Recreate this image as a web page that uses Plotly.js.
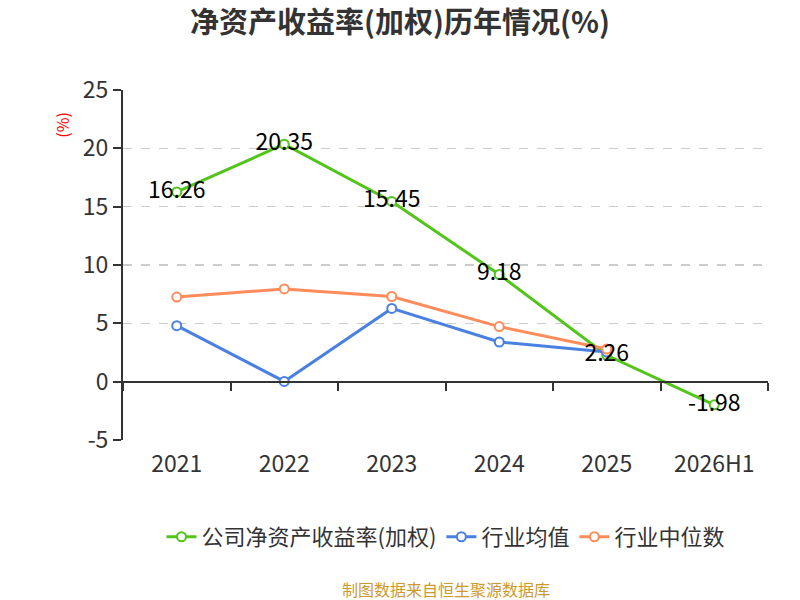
<!DOCTYPE html>
<html>
<head>
<meta charset="utf-8">
<script src="https://cdn.plot.ly/plotly-3.0.1.min.js"></script>
<style>
  html, body { margin: 0; padding: 0; background: #fff; }
  #chart { width: 800px; height: 600px; }
</style>
</head>
<body>
<div id="chart"></div>
<script>
const years = ['2021', '2022', '2023', '2024', '2025', '2026H1'];
const companyRoe = [16.26, 20.35, 15.45, 9.18, 2.26, -1.98];
const industryAvg = [4.8, 0.02, 6.28, 3.4, 2.55, null];
const industryMedian = [7.25, 7.95, 7.3, 4.72, 2.8, null];
const yTicks = [-5, 0, 5, 10, 15, 20, 25];
const yTickLabels = ['-5', '0', '5', '10', '15', '20', '25'];

const green = '#52c41a';
const blue = '#4a80e2';
const orange = '#ff8c5a';
const font = '"Noto Sans CJK SC", "Noto Sans", sans-serif';

function series(name, y, color) {
    return {
        x: years,
        y: y,
        name: name,
        type: 'scatter',
        mode: 'lines+markers',
        line: {color: color, width: 3},
        marker: {symbol: 'circle', size: 9, color: '#fff', line: {color: color, width: 2}},
        hoverinfo: 'skip'
    };
}

let data = [
    series('公司净资产收益率(加权)', companyRoe, green),
    series('行业均值', industryAvg, blue),
    series('行业中位数', industryMedian, orange),
    {
        // value labels, drawn last so they sit on top; also carries the zero-line axis
        x: years,
        y: companyRoe,
        xaxis: 'x2',
        type: 'scatter',
        mode: 'text',
        text: companyRoe.map(v => v.toFixed(2)),
        textposition: 'middle center',
        textfont: {family: font, size: 23, color: '#000'},
        showlegend: false,
        hoverinfo: 'skip'
    }
];

let layout = {
    width: 800,
    height: 600,
    margin: {l: 123, r: 32, t: 90, b: 160},
    paper_bgcolor: '#fff',
    plot_bgcolor: '#fff',
    font: {family: font, color: '#333'},
    title: {
        text: '<b>净资产收益率(加权)历年情况(%)</b>',
        x: 0.5,
        xanchor: 'center',
        y: 0.962,
        yanchor: 'middle',
        font: {family: font, size: 29, color: '#333'}
    },
    xaxis: {
        type: 'category',
        range: [-0.5, 5.5],
        showline: false,
        showgrid: false,
        zeroline: false,
        ticks: '',
        tickfont: {family: font, size: 23, color: '#333'},
        ticklabelstandoff: 8
    },
    xaxis2: {
        type: 'category',
        matches: 'x',
        overlaying: 'x',
        anchor: 'free',
        position: 5 / 30,
        showline: true,
        linecolor: '#333',
        linewidth: 2,
        ticks: 'outside',
        ticklen: 8,
        tickwidth: 2,
        tickcolor: '#333',
        tickson: 'boundaries',
        showticklabels: false,
        showgrid: false,
        zeroline: false
    },
    yaxis: {
        range: [-5, 25],
        tickvals: yTicks,
        ticktext: yTickLabels,
        showline: true,
        linecolor: '#333',
        linewidth: 2,
        ticks: 'outside',
        ticklen: 8,
        tickwidth: 2,
        tickcolor: '#333',
        showgrid: true,
        gridcolor: '#cccccc',
        griddash: 'dash',
        gridwidth: 1.5,
        zeroline: true,
        zerolinecolor: '#333',
        zerolinewidth: 2,
        tickfont: {family: font, size: 23, color: '#333'}
    },
    legend: {
        orientation: 'h',
        x: 0.5,
        xanchor: 'center',
        y: -0.277,
        yanchor: 'middle',
        font: {family: font, size: 22, color: '#333'},
        itemwidth: 30,
        tracegroupgap: 0
    },
    annotations: [
        {
            text: '(%)',
            xref: 'paper', yref: 'paper',
            x: -0.095, y: 0.9,
            xanchor: 'center', yanchor: 'middle',
            textangle: -90,
            showarrow: false,
            font: {family: font, size: 16, color: '#ff0000'}
        },
        {
            text: '制图数据来自恒生聚源数据库',
            xref: 'paper', yref: 'paper',
            x: 0.5, y: -0.425,
            xanchor: 'center', yanchor: 'middle',
            showarrow: false,
            font: {family: font, size: 16, color: '#cc9a2e'}
        }
    ]
};

Plotly.newPlot('chart', data, layout, {displayModeBar: false, staticPlot: true});
</script>
</body>
</html>
